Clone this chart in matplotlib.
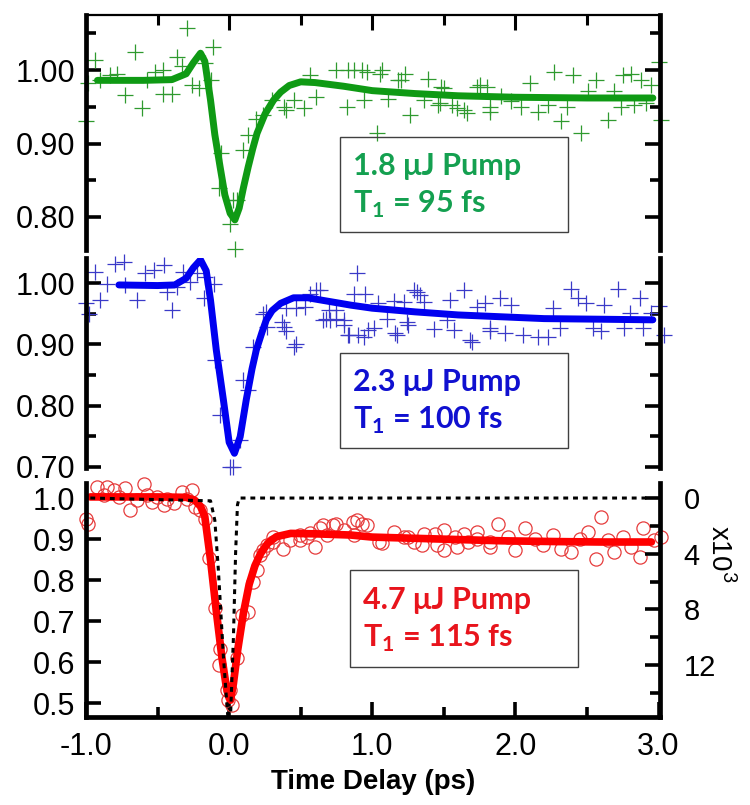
import matplotlib
matplotlib.use("Agg")
import matplotlib.pyplot as plt
from matplotlib.patches import Rectangle
from matplotlib.ticker import MultipleLocator, FormatStrFormatter

plt.rcParams['font.family'] = ['Liberation Sans', 'DejaVu Sans']
plt.rcParams['axes.unicode_minus'] = False
plt.rcParams['mathtext.fontset'] = 'custom'
plt.rcParams['mathtext.rm'] = 'Lato'
plt.rcParams['mathtext.bf'] = 'Lato:bold'

# %% data
# 1.8 uJ pump (green crosses + fit)
green_t = [-0.998, -0.988, -0.935, -0.90, -0.83, -0.78, -0.73, -0.66, -0.61, -0.575,
           -0.52, -0.46, -0.46, -0.40, -0.365, -0.33, -0.295, -0.26, -0.21, -0.17,
           -0.13, -0.11, -0.074, -0.06, 0.007, 0.03, 0.042, 0.053, 0.10, 0.135,
           0.19, 0.24, 0.30, 0.38, 0.40, 0.45, 0.52, 0.565, 0.61, 0.75,
           0.82, 0.83, 0.87, 0.93, 0.94, 0.96, 1.03, 1.054, 1.066, 1.11,
           1.18, 1.20, 1.23, 1.26, 1.36, 1.39, 1.46, 1.47, 1.48, 1.50,
           1.56, 1.59, 1.64, 1.66, 1.73, 1.75, 1.80, 1.82, 1.82, 1.90,
           1.97, 2.04, 2.10, 2.16, 2.23, 2.27, 2.32, 2.36, 2.40, 2.46,
           2.51, 2.56, 2.65, 2.69, 2.74, 2.75, 2.81, 2.83, 2.88, 2.91,
           2.95, 3.00, 3.02]
green_y = [0.930, 0.983, 1.014, 0.986, 0.993, 0.995, 0.966, 1.025, 0.948, 0.986,
           0.998, 1.000, 0.968, 0.967, 1.018, 1.005, 1.057, 0.980, 0.975, 1.009,
           0.986, 1.032, 0.839, 0.887, 0.791, 0.823, 0.757, 0.823, 0.891, 0.912,
           0.934, 0.939, 0.959, 0.950, 0.946, 0.959, 0.948, 0.993, 0.964, 1.000,
           0.950, 1.000, 1.000, 1.000, 0.959, 0.998, 0.914, 0.995, 1.000, 0.961,
           0.986, 0.986, 0.995, 0.939, 0.959, 0.988, 0.952, 0.955, 0.977, 0.975,
           0.952, 0.948, 0.946, 0.941, 0.977, 0.980, 0.977, 0.950, 0.943, 0.965,
           0.958, 0.950, 0.982, 0.943, 0.952, 0.998, 0.930, 0.950, 0.993, 0.914,
           0.971, 0.986, 0.932, 0.971, 0.950, 0.993, 0.995, 0.952, 0.986, 0.955,
           0.980, 1.011, 0.932]
green_fit_t = [-0.92, -0.6, -0.4, -0.3, -0.25, -0.2, -0.17, -0.13, -0.1, -0.063,
               -0.03, 0.007, 0.04, 0.07, 0.1, 0.133, 0.165, 0.195, 0.25, 0.31,
               0.36, 0.42, 0.5, 0.6, 0.8, 1.0, 1.3, 1.6, 2.0, 2.5, 2.96]
green_fit_y = [0.986, 0.986, 0.987, 0.995, 1.010, 1.023, 1.012, 0.959, 0.912, 0.868,
               0.830, 0.805, 0.796, 0.812, 0.840, 0.868, 0.893, 0.914, 0.940, 0.959,
               0.970, 0.979, 0.984, 0.983, 0.978, 0.972, 0.968, 0.965, 0.963, 0.962,
               0.962]

# 2.3 uJ pump (blue crosses + fit)
blue_t = [-1.0, -0.98, -0.935, -0.90, -0.853, -0.795, -0.737, -0.726, -0.644, -0.586,
          -0.528, -0.458, -0.435, -0.40, -0.365, -0.319, -0.272, -0.226, -0.179, -0.167,
          -0.109, -0.098, -0.063, 0.007, 0.03, 0.077, 0.10, 0.135, 0.17, 0.24,
          0.26, 0.263, 0.367, 0.38, 0.40, 0.40, 0.45, 0.47, 0.47, 0.53,
          0.565, 0.61, 0.635, 0.658, 0.68, 0.70, 0.705, 0.75, 0.75, 0.80,
          0.80, 0.83, 0.84, 0.87, 0.891, 0.90, 0.94, 0.95, 0.97, 1.01,
          1.04, 1.10, 1.15, 1.16, 1.17, 1.22, 1.24, 1.25, 1.29, 1.31,
          1.33, 1.36, 1.43, 1.52, 1.54, 1.57, 1.64, 1.68, 1.70, 1.73,
          1.79, 1.82, 1.82, 1.89, 1.93, 1.97, 2.05, 2.16, 2.23, 2.26,
          2.31, 2.39, 2.44, 2.49, 2.54, 2.60, 2.62, 2.72, 2.76, 2.80,
          2.87, 2.89, 2.95, 3.00, 3.04]
blue_y = [0.967, 0.950, 1.018, 0.972, 0.999, 1.032, 1.035, 0.997, 0.972, 1.016,
          1.021, 1.029, 0.986, 0.956, 0.994, 1.018, 1.002, 1.016, 0.975, 1.010,
          0.999, 0.874, 0.785, 0.700, 0.700, 0.744, 0.842, 0.825, 0.896, 0.950,
          0.953, 0.929, 0.937, 0.929, 0.921, 0.959, 0.896, 0.900, 0.959, 0.961,
          0.983, 0.988, 0.989, 0.940, 0.942, 0.956, 0.940, 0.942, 0.956, 0.931,
          0.939, 0.915, 0.915, 0.983, 1.016, 0.915, 0.912, 0.983, 0.923, 0.926,
          0.967, 0.942, 0.971, 0.918, 0.915, 0.969, 0.937, 0.932, 0.988, 0.986,
          0.980, 0.969, 0.925, 0.939, 0.972, 0.923, 0.988, 0.907, 0.904, 0.961,
          0.967, 0.926, 0.921, 0.975, 0.918, 0.965, 0.915, 0.912, 0.912, 0.959,
          0.926, 0.991, 0.975, 0.967, 0.926, 0.921, 0.965, 0.991, 0.926, 0.951,
          0.975, 0.926, 0.951, 0.962, 0.915]
blue_fit_t = [-0.77, -0.5, -0.38, -0.3, -0.25, -0.2, -0.16, -0.13, -0.09, -0.04,
              0.0, 0.037, 0.077, 0.12, 0.16, 0.19, 0.23, 0.26, 0.3, 0.36,
              0.45, 0.55, 0.7, 0.85, 1.0, 1.3, 1.6, 1.9, 2.2, 2.6, 2.96]
blue_fit_y = [0.997, 0.996, 0.997, 1.008, 1.025, 1.038, 1.020, 0.972, 0.891, 0.809,
              0.740, 0.722, 0.749, 0.810, 0.860, 0.891, 0.920, 0.940, 0.955, 0.967,
              0.976, 0.976, 0.970, 0.964, 0.959, 0.953, 0.948, 0.945, 0.942, 0.941,
              0.940]

# 4.7 uJ pump (red circles + fit)
red_t = [-1.0, -0.988, -0.923, -0.877, -0.853, -0.807, -0.772, -0.726, -0.691, -0.644,
         -0.598, -0.574, -0.54, -0.505, -0.458, -0.435, -0.388, -0.33, -0.295, -0.26,
         -0.237, -0.202, -0.167, -0.144, -0.098, -0.074, -0.063, -0.016, -0.005, 0.007,
         0.019, 0.053, 0.088, 0.135, 0.17, 0.193, 0.216, 0.24, 0.263, 0.309,
         0.309, 0.379, 0.426, 0.495, 0.495, 0.542, 0.565, 0.60, 0.635, 0.658,
         0.681, 0.728, 0.75, 0.80, 0.867, 0.87, 0.89, 0.926, 0.96, 1.05,
         1.07, 1.15, 1.22, 1.25, 1.29, 1.35, 1.36, 1.44, 1.45, 1.50,
         1.50, 1.58, 1.59, 1.64, 1.67, 1.73, 1.73, 1.82, 1.82, 1.88,
         1.95, 2.00, 2.07, 2.14, 2.19, 2.26, 2.32, 2.39, 2.45, 2.51,
         2.56, 2.60, 2.65, 2.69, 2.75, 2.81, 2.87, 2.89, 2.97, 3.02]
red_y = [0.950, 0.938, 1.028, 1.007, 1.028, 1.020, 1.003, 1.024, 0.971, 0.995,
         1.035, 1.007, 0.991, 1.003, 0.983, 0.999, 0.987, 1.015, 0.999, 1.020,
         0.979, 0.971, 0.950, 0.853, 0.731, 0.593, 0.633, 0.532, 0.507, 0.532,
         0.495, 0.609, 0.715, 0.723, 0.796, 0.824, 0.861, 0.873, 0.885, 0.894,
         0.905, 0.877, 0.898, 0.910, 0.897, 0.906, 0.914, 0.881, 0.926, 0.934,
         0.910, 0.934, 0.938, 0.922, 0.942, 0.910, 0.946, 0.938, 0.934, 0.893,
         0.890, 0.917, 0.905, 0.905, 0.893, 0.885, 0.913, 0.913, 0.885, 0.922,
         0.873, 0.905, 0.881, 0.913, 0.893, 0.901, 0.917, 0.893, 0.881, 0.938,
         0.905, 0.873, 0.926, 0.901, 0.885, 0.909, 0.877, 0.869, 0.901, 0.917,
         0.852, 0.954, 0.897, 0.869, 0.905, 0.881, 0.856, 0.926, 0.897, 0.905]
red_fit_t = [-0.97, -0.5, -0.3, -0.24, -0.2, -0.17, -0.13, -0.09, -0.05, -0.02,
             0.0, 0.01, 0.03, 0.06, 0.1, 0.14, 0.18, 0.22, 0.27, 0.33,
             0.43, 0.6, 0.85, 1.0, 1.3, 1.6, 1.9, 2.3, 2.6, 2.95]
red_fit_y = [1.003, 1.003, 1.002, 0.995, 0.980, 0.955, 0.849, 0.725, 0.610, 0.540,
             0.512, 0.507, 0.548, 0.630, 0.720, 0.790, 0.835, 0.865, 0.890, 0.906,
             0.914, 0.913, 0.910, 0.905, 0.902, 0.899, 0.896, 0.894, 0.893, 0.893]

# pump pulse (dotted, right axis, x10^3)
pump_t = [-0.97, -0.13, -0.10, -0.075, -0.04, -0.01, 0.01, 0.03, 0.045, 0.058, 0.07, 2.92]
pump_v = [0.0, 0.2, 1.6, 5.2, 11.4, 15.6, 15.6, 10.0, 4.0, 0.5, 0.0, 0.0]

# %% figure
W, H = 750, 805
fig = plt.figure(figsize=(W / 100, H / 100), dpi=100)


def add_ax(left, top, right, bottom):
    return fig.add_axes([left / W, 1 - bottom / H, (right - left) / W, (bottom - top) / H])


def style(ax):
    for s in ax.spines.values():
        s.set_linewidth(3.4)
    ax.tick_params(which='both', direction='in', width=2.6, labelsize=22, pad=8)
    ax.tick_params(which='major', length=11)
    ax.tick_params(which='minor', length=7)


def text_box(x0, y0, x1, y1, tx, line1, line2, color):
    fig.add_artist(Rectangle((x0 / W, 1 - y1 / H), (x1 - x0) / W, (y1 - y0) / H,
                             transform=fig.transFigure, fill=False,
                             edgecolor='#404040', lw=1.0))
    yc1 = y0 + (y1 - y0) * 0.31
    yc2 = y0 + (y1 - y0) * 0.71
    fig.text(tx / W, 1 - yc1 / H, line1, color=color, fontsize=22, fontweight='bold',
             family=['Lato', 'DejaVu Sans'], va='center', ha='left')
    fig.text(tx / W, 1 - yc2 / H, line2, color=color, fontsize=22, fontweight='bold',
             family=['Lato', 'DejaVu Sans'], va='center', ha='left')


XMIN, XMAX = -1.0, 3.01

# top panel
ax1 = add_ax(86, 15, 660, 250)
ax1.plot(green_t, green_y, '+', color='#2f9a2f', ms=11, mew=0.9, clip_on=False)
ax1.plot(green_fit_t, green_fit_y, '-', color='#0f9a14', lw=5, solid_capstyle='round')
ax1.set_xlim(XMIN, XMAX)
ax1.set_ylim(0.755, 1.075)
style(ax1)
ax1.spines['bottom'].set_visible(False)
ax1.spines['top'].set_linewidth(1.6)
ax1.yaxis.set_major_locator(MultipleLocator(0.1))
ax1.yaxis.set_minor_locator(MultipleLocator(0.05))
ax1.yaxis.set_major_formatter(FormatStrFormatter('%.2f'))
ax1.xaxis.set_major_locator(MultipleLocator(1.0))
ax1.xaxis.set_minor_locator(MultipleLocator(0.5))
ax1.tick_params(which='both', top=True, bottom=False, right=True, labelbottom=False)
ax1.tick_params(axis='x', which='both', width=2.2)

# middle panel
ax2 = add_ax(86, 258, 660, 468)
ax2.plot(blue_t, blue_y, '+', color='#3a3ac8', ms=11, mew=0.9, clip_on=False)
ax2.plot(blue_fit_t, blue_fit_y, '-', color='#0000f0', lw=5, solid_capstyle='round')
ax2.set_xlim(XMIN, XMAX)
ax2.set_ylim(0.698, 1.041)
style(ax2)
ax2.spines['top'].set_visible(False)
ax2.spines['bottom'].set_visible(False)
ax2.yaxis.set_major_locator(MultipleLocator(0.1))
ax2.yaxis.set_minor_locator(MultipleLocator(0.05))
ax2.yaxis.set_major_formatter(FormatStrFormatter('%.2f'))
ax2.tick_params(which='both', right=True, top=False, bottom=False, labelbottom=False)

# bottom panel
ax3 = add_ax(86, 483, 660, 717)
ax3.plot(red_t, red_y, 'o', mfc='none', mec='#e63c3c', ms=9.5, mew=0.9, clip_on=False)
ax3.plot(red_fit_t, red_fit_y, '-', color='#ff0000', lw=5.5, solid_capstyle='round')
ax3.set_xlim(XMIN, XMAX)
ax3.set_ylim(0.466, 1.037)
style(ax3)
ax3.spines['top'].set_visible(False)
ax3.spines['right'].set_visible(False)
ax3.yaxis.set_major_locator(MultipleLocator(0.1))
ax3.yaxis.set_major_formatter(FormatStrFormatter('%.1f'))
ax3.xaxis.set_major_locator(MultipleLocator(1.0))
ax3.xaxis.set_minor_locator(MultipleLocator(0.5))
ax3.xaxis.set_major_formatter(FormatStrFormatter('%.1f'))
ax3.tick_params(axis='x', which='both', pad=11)
ax3.set_xlabel('Time Delay (ps)', fontsize=20, fontweight='bold', labelpad=5)

ax3b = ax3.twinx()
ax3b.plot(pump_t, pump_v, color='black', lw=2.2, ls=(0, (1.6, 1.6)))
ax3b.set_xlim(XMIN, XMAX)
ax3b.set_ylim(15.73, -1.08)
style(ax3b)
ax3b.spines['top'].set_visible(False)
ax3b.spines['left'].set_visible(False)
ax3b.spines['bottom'].set_visible(False)
ax3b.yaxis.set_major_locator(MultipleLocator(4))
ax3b.yaxis.set_minor_locator(MultipleLocator(2))
ax3b.tick_params(axis='y', labelsize=21, pad=17)
ax3b.set_ylabel('x10$^3$', fontsize=20, rotation=270, family=['Liberation Sans'],
                va='center')
ax3b.yaxis.set_label_coords(1.105, 0.70)

# annotation boxes
text_box(340, 137, 568, 232, 353, '1.8 μJ Pump', r'T$_{\mathbf{1}}$ = 95 fs', '#14a050')
text_box(340, 353, 568, 448, 353, '2.3 μJ Pump', r'T$_{\mathbf{1}}$ = 100 fs', '#1010d0')
text_box(350, 570, 578, 667, 363, '4.7 μJ Pump', r'T$_{\mathbf{1}}$ = 115 fs', '#e8141c')

fig.savefig('out.png', dpi=100)
